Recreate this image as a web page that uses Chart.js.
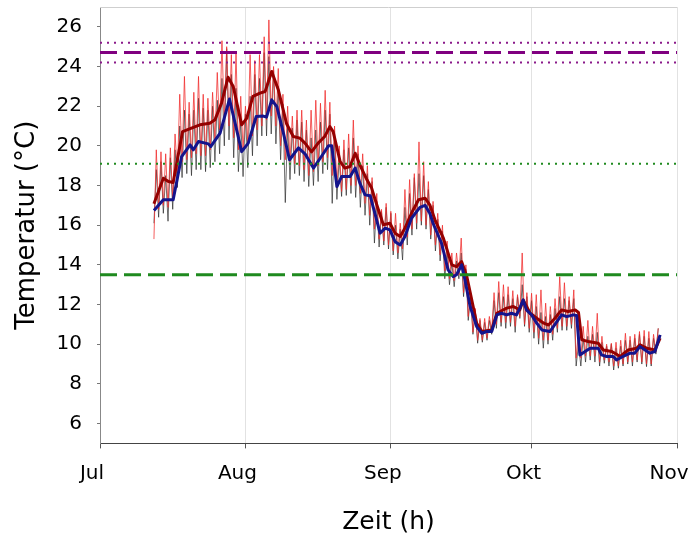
<!DOCTYPE html>
<html><head><meta charset="utf-8">
<script src="https://cdn.jsdelivr.net/npm/chart.js@4"></script>
<style>html,body{margin:0;padding:0;background:#fff}#wrap{width:691px;height:535px;position:relative}</style>
</head><body><div id="wrap"><canvas id="c"></canvas></div>
<script>
// x axis: days since 1 July
const monthTickDays = [0, 31, 62, 92, 123];
const monthLabels = ['Jul', 'Aug', 'Sep', 'Okt', 'Nov'];
const yTickValues = [6, 8, 10, 12, 14, 16, 18, 20, 22, 24, 26];

// raw measurements: one daily low and one daily high per day, first day = 11.5 days after 1 July
const rawStartDay = 11.5;
const blackLow = [16.1,16.4,16.6,16.2,16.8,17.9,18.4,18.6,18.5,18.8,18.8,18.7,18.9,19.2,19.6,20.0,20.3,19.4,18.7,18.45,
  18.9,19.5,20.0,20.5,20.5,20.6,20.1,19.3,17.14,18.3,18.6,18.5,18.2,17.95,18.0,18.2,18.6,18.8,17.1,17.3,
  17.45,17.5,17.6,17.4,16.9,16.5,16.0,15.1,14.9,15.0,14.8,14.5,14.3,14.25,15.0,15.5,15.8,16.0,15.8,15.3,
  14.7,14.2,13.3,13.0,12.9,13.3,12.4,11.2,10.5,10.05,10.1,10.2,10.5,10.8,10.9,10.8,10.9,10.6,11.3,10.9,
  10.6,10.3,10.0,9.8,10.0,10.2,10.6,10.7,10.7,10.8,8.9,8.9,9.1,9.2,9.1,8.9,9.04,8.9,8.7,8.79,
  8.9,9.0,8.9,9.1,9.0,8.87,8.9,9.5];
const blackHigh = [18.8,19.2,18.5,19.4,19.8,21.0,21.8,21.6,21.8,22.4,21.9,21.8,22.0,22.3,23.4,24.9,23.6,22.9,21.3,21.6,
  22.5,23.6,23.4,24.7,24.5,23.8,23.0,22.1,21.0,20.9,21.3,21.2,20.8,20.4,20.8,21.2,21.8,21.6,20.5,19.4,
  19.8,19.9,20.4,19.6,19.0,18.6,18.2,17.2,16.7,16.9,16.6,16.0,15.8,16.9,17.6,18.4,18.6,18.5,17.8,17.0,
  16.3,15.7,14.7,14.1,14.2,14.6,13.8,12.4,11.7,11.2,11.1,11.2,12.2,12.6,12.4,12.5,12.3,12.4,13.0,12.4,
  12.2,11.9,11.6,11.4,11.5,11.8,12.4,12.3,12.2,12.3,10.0,10.3,10.4,10.5,10.6,10.1,9.9,10.0,9.8,9.9,
  10.2,10.2,10.3,10.5,10.4,10.3,10.3,10.8];
const redLow = [15.3,16.8,17.0,16.9,17.3,18.6,19.2,19.3,19.4,19.6,19.5,19.5,19.8,20.3,20.8,21.2,21.0,20.4,19.8,19.8,
  20.2,20.5,20.8,21.0,21.3,21.5,21.0,20.0,19.3,19.2,19.1,19.0,18.8,18.5,18.7,19.0,19.2,19.4,18.5,17.9,
  17.7,17.8,18.0,18.0,17.6,17.1,16.5,15.8,15.3,15.2,15.0,14.7,14.6,14.8,15.4,15.8,16.1,16.2,16.0,15.5,
  15.0,14.5,13.7,13.3,13.2,13.5,12.6,11.4,10.6,10.2,10.2,10.3,10.7,11.0,11.1,11.1,11.1,10.9,11.4,11.0,
  10.8,10.6,10.3,10.2,10.2,10.5,10.8,10.9,10.9,11.0,9.3,9.3,9.4,9.4,9.4,9.1,9.2,9.1,8.9,8.9,
  9.0,9.1,9.1,9.2,9.1,9.0,9.0,9.6];
const redHigh = [19.8,19.7,19.6,19.9,20.6,22.6,23.5,22.2,22.7,23.5,22.6,22.4,22.7,23.7,25.3,25.0,24.6,24.7,22.5,22.0,
  24.6,24.3,24.6,25.5,26.35,24.0,23.9,22.6,22.0,21.5,21.8,21.8,21.3,21.8,22.3,22.15,22.8,22.2,21.0,20.0,
  20.3,20.6,21.3,20.0,19.6,19.0,18.4,17.6,16.8,17.1,16.7,16.6,16.1,17.8,18.3,18.6,20.2,19.2,18.2,17.2,
  16.6,16.0,15.2,14.6,14.6,15.35,14.0,12.6,11.8,11.3,11.3,11.4,12.6,13.16,13.0,12.9,12.7,12.5,14.6,12.6,
  12.57,12.5,12.74,12.07,11.9,12.3,13.4,13.1,12.4,12.74,10.6,10.9,11.2,10.9,11.56,10.4,10.0,10.05,10.1,10.2,
  10.55,10.4,10.5,10.64,10.7,10.64,10.5,10.8];

// daily mean curves (day, value)
const blueDays = [11.5,13.5,15.6,17.4,19.2,19.9,21.0,23.1,23.6,25.6,27.6,28.8,30.2,31.6,33.3,34.8,35.5,36.6,37.7,39.1,
  40.4,42.3,43.7,45.5,47.3,48.7,49.4,50.5,51.5,53.3,54.4,55.4,56.5,57.6,58.6,59.7,60.8,61.8,62.9,64.0,
  65.0,66.4,68.2,69.3,70.3,71.0,72.8,74.2,75.3,76.0,77.1,77.8,78.9,80.3,81.4,82.4,83.5,84.6,85.6,86.7,
  87.7,88.8,89.5,90.2,90.9,92.0,93.1,94.2,95.9,97.4,98.4,99.5,100.9,101.6,102.3,103.4,104.5,106.2,106.9,108.0,
  109.4,110.1,111.5,113.0,114.0,115.1,116.2,117.2,118.3,119.4];
const blueMean = [16.74,17.28,17.28,19.46,20.05,19.8,20.22,20.1,19.96,20.64,22.36,21.14,19.71,20.14,21.48,21.5,21.45,22.32,21.98,20.64,
  19.3,19.9,19.6,18.88,19.5,20.0,20.0,17.95,18.45,18.45,18.88,18.12,17.53,17.48,16.6,15.6,15.85,15.76,15.17,15.0,
  15.43,16.35,16.9,17.0,16.6,16.1,15.09,13.75,13.41,13.5,14.0,13.24,11.9,10.89,10.55,10.64,10.64,11.48,11.56,11.48,
  11.56,11.48,11.82,12.23,11.73,11.48,11.06,10.72,10.64,11.14,11.48,11.39,11.48,11.45,9.46,9.63,9.8,9.8,9.46,9.38,
  9.38,9.21,9.38,9.55,9.55,9.88,9.71,9.55,9.63,10.47];
const redDays = [11.5,13.5,14.6,15.6,17.6,19.5,21.3,23.4,24.5,25.9,27.3,28.4,30.2,31.3,32.6,34.1,35.2,36.6,38.0,39.8,
  41.2,42.6,43.7,45.1,46.5,47.9,49.0,49.7,51.2,52.2,53.3,54.4,55.4,56.9,57.9,59.0,60.4,61.8,62.9,64.0,
  65.0,66.4,67.9,69.3,70.3,71.4,73.2,75.0,76.0,77.1,78.2,80.3,81.4,83.5,84.6,86.7,88.1,89.5,90.2,91.7,
  93.1,94.6,95.6,97.0,98.4,99.8,101.3,102.0,102.7,104.1,106.2,107.3,109.1,110.9,112.6,114.4,115.1,116.5,118.3,119.4];
const redMean = [17.08,18.37,18.2,18.15,20.72,20.89,21.06,21.14,21.31,22.15,23.46,22.99,21.06,21.4,22.49,22.66,22.74,23.75,22.83,21.1,
  20.47,20.39,20.14,19.7,20.14,20.47,20.97,20.72,19.2,18.88,18.96,19.63,19.04,18.29,17.87,17.03,16.02,16.1,15.6,15.43,
  15.85,16.6,17.28,17.36,17.03,16.27,15.35,14.0,13.91,14.16,13.41,11.06,10.64,10.72,11.56,11.82,11.9,11.73,12.23,11.56,
  11.31,11.06,10.97,11.31,11.73,11.65,11.73,11.6,10.22,10.14,10.05,9.71,9.63,9.38,9.71,9.8,9.97,9.8,9.71,10.3];

// horizontal reference levels (°C)
const purpleMeanLevel = 24.7;
const purpleUpperLevel = 25.2;
const purpleLowerLevel = 24.2;
const greenUpperLevel = 19.1;
const greenMeanLevel = 13.5;

const FONT = 'DejaVu Sans';

function rawSeries(lows, highs) {
  const out = [];
  for (let i = 0; i < lows.length; i++) {
    out.push({x: rawStartDay + i, y: lows[i]});
    out.push({x: rawStartDay + i + 0.5, y: highs[i]});
  }
  return out;
}
function pairSeries(days, vals) { return days.map((d, i) => ({x: d, y: vals[i]})); }
function hLine(v) { return [{x: monthTickDays[0], y: v}, {x: monthTickDays[monthTickDays.length - 1], y: v}]; }

const common = {pointRadius: 0, fill: false, tension: 0, borderJoinStyle: 'round'};
const datasets = [
  Object.assign({label: 'purple mean', data: hLine(purpleMeanLevel), borderColor: '#800080', borderWidth: 3, borderDash: [17, 7], order: 0}, common),
  Object.assign({label: 'purple upper', data: hLine(purpleUpperLevel), borderColor: '#8a1a8a', borderWidth: 2, borderDash: [2, 5], order: 0}, common),
  Object.assign({label: 'purple lower', data: hLine(purpleLowerLevel), borderColor: '#8a1a8a', borderWidth: 2, borderDash: [2, 5], order: 0}, common),
  Object.assign({label: 'green upper', data: hLine(greenUpperLevel), borderColor: '#1f8a1f', borderWidth: 2, borderDash: [2, 5], order: 0}, common),
  Object.assign({label: 'green mean', data: hLine(greenMeanLevel), borderColor: '#1f8a1f', borderWidth: 3, borderDash: [17, 7], order: 0}, common),
  Object.assign({label: 'blue mean', data: pairSeries(blueDays, blueMean), borderColor: '#14148c', borderWidth: 3, order: 1}, common),
  Object.assign({label: 'red mean', data: pairSeries(redDays, redMean), borderColor: '#950000', borderWidth: 3, order: 2}, common),
  Object.assign({label: 'red raw', data: rawSeries(redLow, redHigh), borderColor: 'rgba(240,40,40,0.75)', borderWidth: 1, order: 3}, common),
  Object.assign({label: 'black raw', data: rawSeries(blackLow, blackHigh), borderColor: 'rgba(40,40,40,0.85)', borderWidth: 0.8, order: 4}, common)
];

const frame = {
  id: 'frame',
  beforeDatasetsDraw(chart) {
    const a = chart.chartArea, ctx = chart.ctx;
    ctx.save();
    ctx.strokeStyle = '#cfcfcf';
    ctx.lineWidth = 1;
    ctx.beginPath();
    ctx.moveTo(a.left, a.top + 0.5);
    ctx.lineTo(a.right, a.top + 0.5);
    ctx.stroke();
    ctx.restore();
  }
};

new Chart(document.getElementById('c'), {
  type: 'line',
  data: {datasets},
  plugins: [frame],
  options: {
    responsive: true,
    maintainAspectRatio: false,
    animation: false,
    parsing: true,
    layout: {padding: {top: 7, right: 14, bottom: 0, left: 0}},
    plugins: {legend: {display: false}, tooltip: {enabled: false}},
    scales: {
      x: {
        type: 'linear', min: 0, max: 123,
        afterBuildTicks: s => { s.ticks = monthTickDays.map(v => ({value: v})); },
        afterFit: s => { s.height = 91.6; s.paddingLeft = 0; s.paddingRight = 0; },
        ticks: {
          autoSkip: false, maxRotation: 0, labelOffset: -8, padding: 13,
          font: {family: FONT, size: 20}, color: '#000',
          callback: v => monthLabels[monthTickDays.indexOf(v)]
        },
        grid: {color: '#e2e2e2', tickColor: '#555', tickLength: 5, drawTicks: true},
        border: {color: '#444', width: 1},
        title: {display: true, text: 'Zeit (h)', font: {family: FONT, size: 25, lineHeight: 1}, color: '#000', padding: {top: 0, bottom: 0}}
      },
      y: {
        type: 'linear', min: 5, max: 27,
        afterBuildTicks: s => { s.ticks = yTickValues.map(v => ({value: v})); },
        afterFit: s => { s.width = 100; s.paddingTop = 0; s.paddingBottom = 0; },
        ticks: {padding: 15, font: {family: FONT, size: 20}, color: '#000'},
        grid: {drawOnChartArea: false, tickColor: '#777', tickLength: 3},
        border: {color: '#888', width: 1},
        title: {display: true, text: 'Temperatur (°C)', font: {family: FONT, size: 26, lineHeight: 1}, color: '#000', padding: {top: 14, bottom: 0}}
      }
    }
  }
});
</script>
</body></html>
